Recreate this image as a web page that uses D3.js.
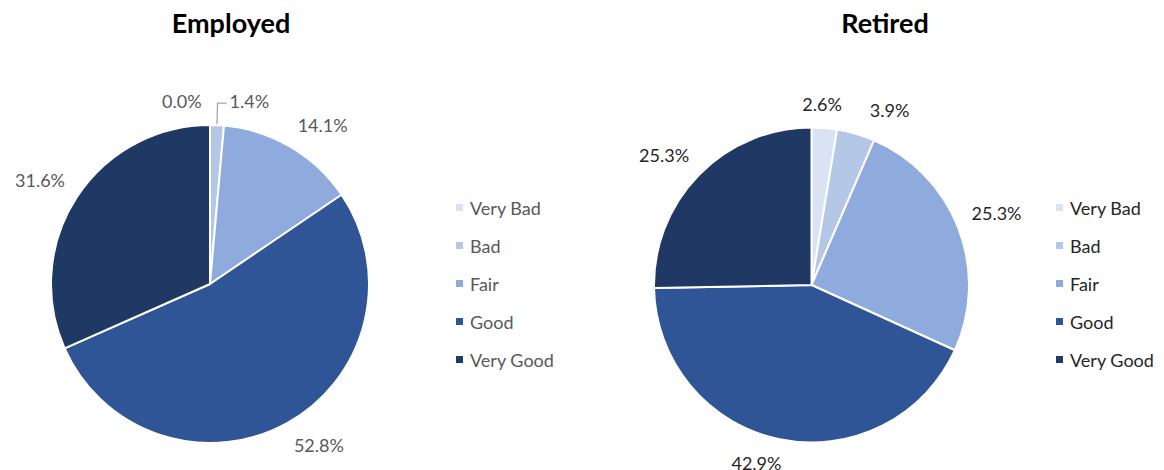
<!DOCTYPE html>
<html>
<head>
<meta charset="utf-8">
<script src="https://cdn.jsdelivr.net/npm/d3@7"></script>
<style>
  html, body { margin: 0; padding: 0; background: #ffffff; }
  svg { display: block; font-family: Lato, "Open Sans", "Liberation Sans", sans-serif; }
</style>
</head>
<body>
<svg id="chart" width="1164" height="470"></svg>
<script>
// Self-rated health by employment status (% of respondents)
const categories = ["Very Bad", "Bad", "Fair", "Good", "Very Good"];
const employedValues = [0.0, 1.4, 14.1, 52.8, 31.6];
const retiredValues = [2.6, 3.9, 25.3, 42.9, 25.3];
const panelTitles = ["Employed", "Retired"];
const sliceColors = ["#dae3f3", "#b4c7e7", "#8faadc", "#2f5597", "#203864"];

const panels = [
  { title: panelTitles[0], values: employedValues, cx: 210, cy: 284, r: 159,
    titleX: 231, legendX: 456, textColor: "#595959" },
  { title: panelTitles[1], values: retiredValues, cx: 811.5, cy: 285, r: 157.5,
    titleX: 885, legendX: 1056, textColor: "#262626" }
];

const svg = d3.select("#chart");
const color = d3.scaleOrdinal().domain(categories).range(sliceColors);
const pie = d3.pie().sort(null).value(d => d.value);
const fmt = d3.format(".1f");

const legendY = d3.scalePoint().domain(categories).range([207.5, 359.5]);

panels.forEach(p => {
  const g = svg.append("g");

  g.append("text")
    .attr("x", p.titleX).attr("y", 33)
    .attr("text-anchor", "middle")
    .attr("font-size", 27).attr("font-weight", 700)
    .attr("fill", "#000000")
    .text(p.title);

  const data = categories.map((c, i) => ({ category: c, value: p.values[i] }));
  const arcs = pie(data);
  const arc = d3.arc().innerRadius(0).outerRadius(p.r);

  const pieG = g.append("g").attr("transform", `translate(${p.cx},${p.cy})`);
  pieG.selectAll("path.slice")
    .data(arcs)
    .join("path")
    .attr("class", "slice")
    .attr("d", arc)
    .attr("fill", d => color(d.data.category))
    .attr("stroke", "#ffffff")
    .attr("stroke-width", 2)
    .attr("stroke-linejoin", "round");

  // Outside-end value labels: the label corner facing the pie sits just beyond the rim
  const gap = 14;
  const ramp = v => Math.min(1, Math.abs(v) / 0.25) * Math.sign(v);
  const labels = arcs.map(d => {
    const t = pieG.append("text")
      .attr("font-size", 18)
      .attr("fill", p.textColor)
      .attr("text-anchor", "middle")
      .attr("dominant-baseline", "central")
      .text(fmt(d.data.value) + "%");
    const box = t.node().getBBox();
    const w = box.width, h = box.height * 0.92;
    const mid = (d.startAngle + d.endAngle) / 2;
    const R = p.r + gap;
    const x = R * Math.sin(mid) + (w / 2) * ramp(Math.sin(mid));
    const y = -R * Math.cos(mid) - (h / 2) * ramp(Math.cos(mid));
    return { d, t, mid, w, h, x0: x, y0: y, x, y };
  });

  // Push apart labels that collide
  const pad = 28;
  for (let iter = 0; iter < 20; iter++) {
    let moved = false;
    for (let i = 0; i < labels.length; i++) {
      for (let j = i + 1; j < labels.length; j++) {
        const a = labels[i], b = labels[j];
        const needX = (a.w + b.w) / 2 + pad;
        const dx = b.x - a.x, dy = b.y - a.y;
        if (Math.abs(dy) < (a.h + b.h) / 2 && Math.abs(dx) < needX - 0.01) {
          const shift = (needX - Math.abs(dx)) / 2;
          const dir = dx >= 0 ? 1 : -1;
          a.x -= dir * shift; b.x += dir * shift;
          moved = true;
        }
      }
    }
    if (!moved) break;
  }

  labels.forEach(l => {
    l.t.attr("x", l.x).attr("y", l.y);
    const disp = Math.hypot(l.x - l.x0, l.y - l.y0);
    if (l.d.data.value > 0 && disp > 20) {
      const sx = (p.r + 1) * Math.sin(l.mid), sy = -(p.r + 1) * Math.cos(l.mid);
      const left = l.x - l.w / 2;
      pieG.append("polyline")
        .attr("points", [[sx, sy], [left - 12, l.y + 2], [left - 3, l.y + 2]].map(q => q.join(",")).join(" "))
        .attr("fill", "none")
        .attr("stroke", "#a6a6a6")
        .attr("stroke-width", 1.3);
    }
  });

  // Legend
  const lg = g.append("g");
  const item = lg.selectAll("g.item")
    .data(categories)
    .join("g")
    .attr("class", "item")
    .attr("transform", c => `translate(${p.legendX},${legendY(c)})`);
  item.append("rect")
    .attr("x", 0).attr("y", -3.5)
    .attr("width", 7).attr("height", 7)
    .attr("fill", c => color(c));
  item.append("text")
    .attr("x", 14).attr("y", 0)
    .attr("dominant-baseline", "central")
    .attr("font-size", 18)
    .attr("fill", p.textColor)
    .text(c => c);
});
</script>
</body>
</html>
